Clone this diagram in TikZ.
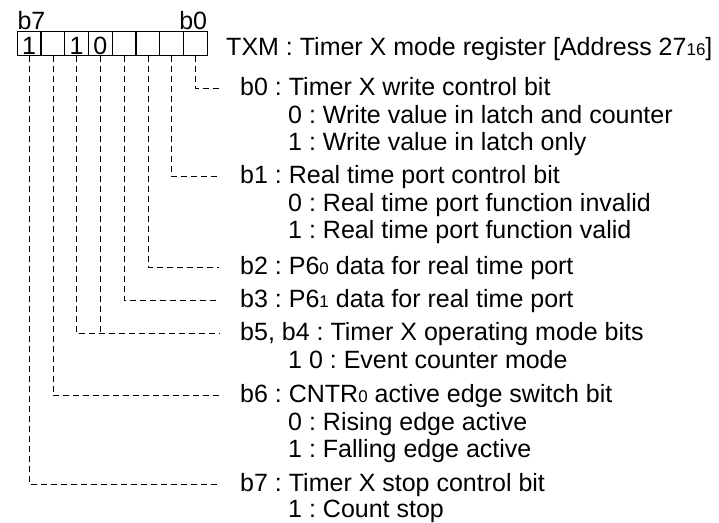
\documentclass[tikz,border=0pt]{standalone}
\usepackage{fontspec}
\setmainfont{Liberation Sans}
\usepackage{tikz}
\usetikzlibrary{positioning}

\newcommand{\sml}[1]{{\fontsize{17pt}{17pt}\selectfont #1}}

\tikzset{
    cell/.style={draw, line width=1.3pt, minimum width=23.75pt, minimum height=24pt, inner sep=0pt, outer sep=0pt, text height=22pt, text depth=0pt},
    txt/.style={inner sep=0pt, text height=18pt, text depth=5pt},
    conn/.style={line width=0.9pt, dash pattern=on 6pt off 4pt}
}

\begin{document}
\begin{tikzpicture}[font=\fontsize{25pt}{27pt}\selectfont\frenchspacing]

    \useasboundingbox (0,0) rectangle (719pt,-522pt);

    \node [cell] (c7) at (29.2pt,-43.7pt) {1};
    \node [cell, right=0pt of c7] (c6) {};
    \node [cell, right=0pt of c6] (c5) {1};
    \node [cell, right=0pt of c5] (c4) {0};
    \node [cell, right=0pt of c4] (c3) {};
    \node [cell, right=0pt of c3] (c2) {};
    \node [cell, right=0pt of c2] (c1) {};
    \node [cell, right=0pt of c1] (c0) {};

    \node [txt, anchor=base west] (msb) at ([yshift=2pt]c7.north west) {b7};
    \node [txt, anchor=base east] (lsb) at ([yshift=2pt]c0.north east) {b0};
    \node [txt, anchor=base west] (t) at ([xshift=18.7pt]c0.south east) {TXM : Timer X mode register [Address 27\sml{16}]};

    \node [txt, below right=16.5pt and 14pt of t.south west] (l0) {b0 : Timer X write control bit};
    \node [txt, below right=4pt and 48pt of l0.south west] (l0a) {0 : Write value in latch and counter};
    \node [txt, below right=4pt and 0pt of l0a.south west] (l0b) {1 : Write value in latch only};

    \node [txt, below right=10pt and -48pt of l0b.south west] (l1) {b1 : Real time port control bit};
    \node [txt, below right=4pt and 48pt of l1.south west] (l1a) {0 : Real time port function invalid};
    \node [txt, below right=4pt and 0pt of l1a.south west] (l1b) {1 : Real time port function valid};

    \node [txt, below right=12pt and -48pt of l1b.south west] (l2) {b2 : P6\sml{0} data for real time port};
    \node [txt, below right=10pt and 0pt of l2.south west] (l3) {b3 : P6\sml{1} data for real time port};

    \node [txt, below right=10pt and 0pt of l3.south west] (l5) {b5, b4 : Timer X operating mode bits};
    \node [txt, below right=4pt and 48pt of l5.south west] (l5a) {1 0 : Event counter mode};

    \node [txt, below right=11pt and -48pt of l5a.south west] (l6) {b6 : CNTR\sml{0} active edge switch bit};
    \node [txt, below right=4pt and 48pt of l6.south west] (l6a) {0 : Rising edge active};
    \node [txt, below right=4pt and 0pt of l6a.south west] (l6b) {1 : Falling edge active};

    \node [txt, below right=10.5pt and -48pt of l6b.south west] (l7) {b7 : Timer X stop control bit};
    \node [txt, below right=3pt and 48pt of l7.south west] (l7a) {1 : Count stop};

    \coordinate (e0) at ([xshift=-21pt, yshift=7pt]l0.base west);
    \coordinate (e1) at ([xshift=-21pt, yshift=7pt]l1.base west);
    \coordinate (e2) at ([xshift=-21pt, yshift=7pt]l2.base west);
    \coordinate (e3) at ([xshift=-21pt, yshift=7pt]l3.base west);
    \coordinate (e5) at ([xshift=-21pt, yshift=7pt]l5.base west);
    \coordinate (e6) at ([xshift=-21pt, yshift=7pt]l6.base west);
    \coordinate (e7) at ([xshift=-21pt, yshift=7pt]l7.base west);

    \draw [conn] (c0.south) |- (e0);
    \draw [conn] (c1.south) |- (e1);
    \draw [conn] (c2.south) |- (e2);
    \draw [conn] (c3.south) |- (e3);
    \draw [conn] (c4.south) -- (c4.south |- e5);
    \draw [conn] (c5.south) |- (e5);
    \draw [conn] (c6.south) |- (e6);
    \draw [conn] (c7.south) |- (e7);

\end{tikzpicture}
\end{document}
